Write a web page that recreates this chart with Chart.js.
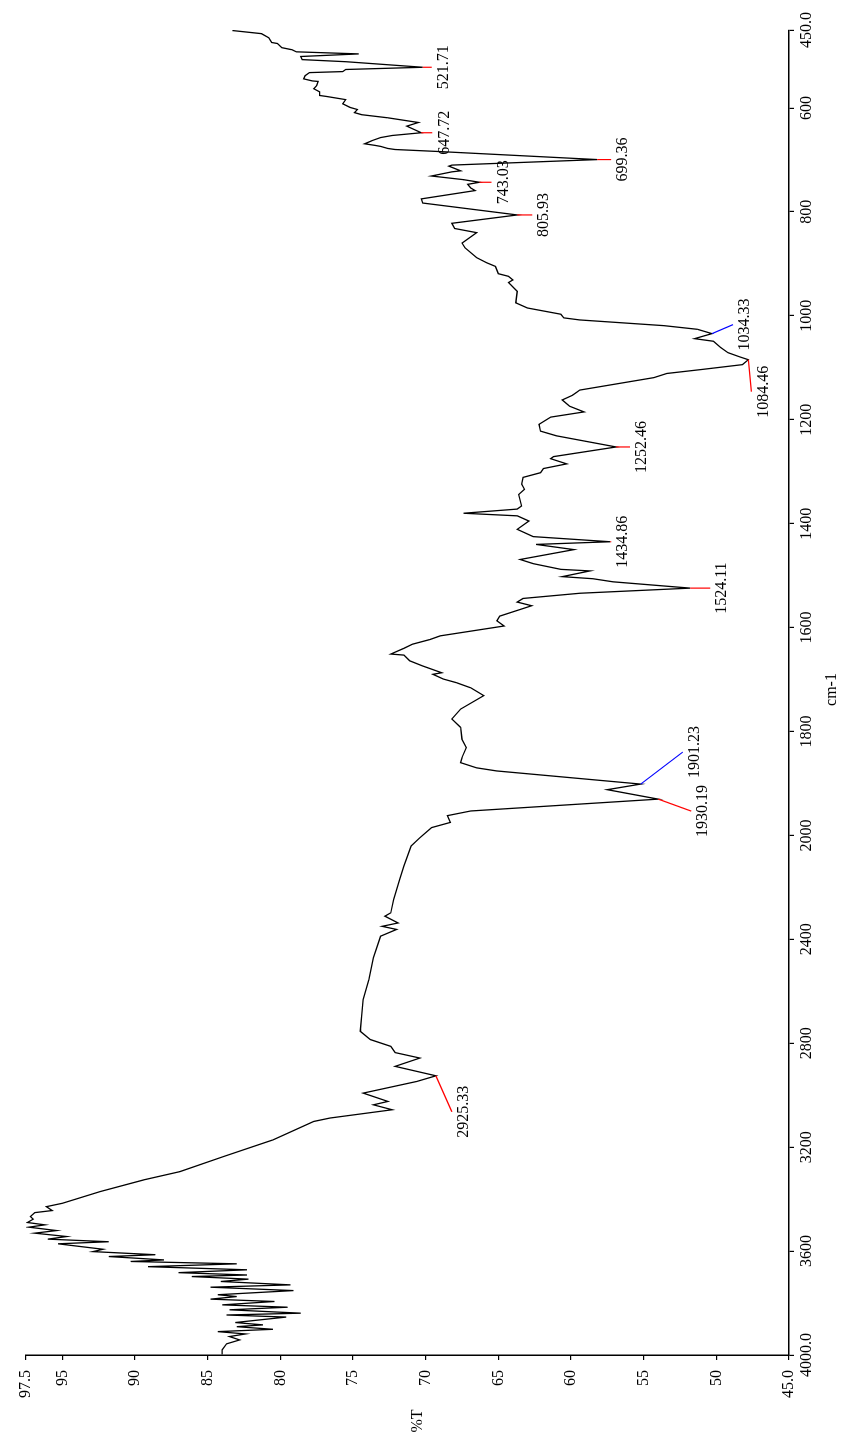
<!DOCTYPE html>
<html>
<head>
<meta charset="utf-8">
<title>IR spectrum</title>
<script src="https://cdn.jsdelivr.net/npm/chart.js@4.4.1/dist/chart.umd.min.js"></script>
<style>
  html, body { margin: 0; padding: 0; background: #fff; overflow: hidden; }
  #page { position: relative; width: 843px; height: 1436px; }
  /* the spectrum is laid out in landscape and turned a quarter turn counter-clockwise */
  #frame {
    position: absolute; left: 0; top: 0; width: 1436px; height: 843px;
    transform-origin: 0 0; transform: translateY(1436px) rotate(-90deg);
  }
</style>
</head>
<body>
<div id="page"><div id="frame"><canvas id="ir" width="1436" height="843"></canvas></div></div>
<script>
// Wavenumber (cm-1) and transmittance (%T) of the recorded spectrum
const waves = [
  451, 457, 465, 474, 476, 484, 488, 492, 496, 501, 507, 511, 521.71, 526, 530, 532, 538, 544, 548, 549,
  557, 563, 569, 576, 578, 584, 592, 599, 603, 609, 613, 619, 628, 635, 647.72, 653, 657, 663, 669, 672,
  674, 678, 680, 684, 699.36, 710, 712, 721, 723, 731, 738, 743.03, 747, 754, 759, 775, 783, 805.93, 822, 832,
  840, 860, 869, 888, 898, 905, 919, 924, 931, 936, 953, 975, 985, 997, 1004, 1008, 1019, 1026, 1034.33, 1044,
  1049, 1061, 1071, 1079, 1084.46, 1094, 1103, 1111, 1119, 1143, 1147, 1153, 1162, 1174, 1185, 1195, 1209, 1222, 1231, 1252.46,
  1271, 1275, 1285, 1294, 1302, 1311, 1324, 1334, 1344, 1366, 1372, 1380, 1385, 1395, 1411, 1425, 1434.86, 1440, 1450, 1469,
  1477, 1488, 1491, 1502, 1506, 1512, 1524.11, 1534, 1544, 1551, 1558, 1578, 1587, 1597, 1616, 1623, 1632, 1640, 1651, 1653,
  1664, 1674, 1687, 1690, 1699, 1706, 1716, 1731, 1757, 1776, 1792, 1815, 1831, 1850, 1860, 1870, 1876, 1901.23, 1912, 1930.19,
  1953, 1962, 1975, 1985, 2009, 2041, 2118, 2170, 2247, 2298, 2311, 2337, 2350, 2362, 2388, 2471, 2555, 2632, 2696, 2754,
  2786, 2812, 2836, 2857, 2889, 2925.33, 2947, 2992, 3024, 3037, 3056, 3088, 3101, 3172, 3236, 3294, 3326, 3371, 3416, 3429,
  3444, 3452, 3467, 3477, 3490, 3499, 3508, 3521, 3531, 3544, 3554, 3564, 3572, 3593, 3602, 3614, 3621, 3634, 3640, 3649,
  3660, 3672, 3683, 3692, 3698, 3708, 3717, 3730, 3739, 3752, 3768, 3775, 3785, 3794, 3807, 3816, 3826, 3839, 3846, 3854,
  3875, 3884, 3891, 3901, 3910, 3919, 3929, 3942, 3957, 3980, 3998
];
const trans = [
  83.3, 81.3, 80.8, 80.6, 80.2, 79.9, 79.2, 78.9, 74.6, 78.6, 78.5, 75.5, 70.2, 75.5, 75.7, 78.0, 78.3, 78.4, 77.8, 77.4,
  77.5, 77.7, 77.3, 77.3, 76.8, 75.5, 75.7, 75.2, 74.7, 74.9, 74.4, 72.6, 70.5, 71.3, 70.3, 72.3, 73.1, 73.7, 74.2, 73.5,
  73.1, 72.6, 72.1, 69.0, 58.2, 68.2, 68.4, 67.6, 68.2, 69.6, 67.4, 66.3, 67.1, 66.9, 66.6, 70.3, 70.2, 63.7, 68.2, 68.0,
  66.5, 67.5, 67.3, 66.5, 65.8, 65.2, 65.0, 64.3, 64.0, 64.3, 63.7, 63.8, 63.0, 60.7, 60.5, 59.4, 53.6, 51.3, 50.3, 51.5,
  50.2, 49.7, 49.2, 48.4, 47.8, 48.2, 50.9, 53.4, 54.3, 59.4, 59.6, 59.9, 60.6, 60.1, 59.1, 61.4, 62.2, 62.1, 61.0, 56.9,
  61.2, 61.4, 60.3, 61.9, 62.1, 63.3, 63.4, 63.2, 63.6, 63.4, 63.7, 67.4, 63.7, 62.9, 63.7, 62.6, 57.3, 62.4, 59.8, 63.5,
  62.6, 60.7, 58.7, 60.6, 58.5, 57.1, 51.8, 59.4, 63.3, 63.7, 62.7, 64.9, 65.1, 64.6, 69.0, 69.7, 70.9, 71.5, 72.4, 71.5,
  71.1, 70.2, 68.9, 69.5, 68.8, 67.9, 66.9, 66.0, 67.6, 68.2, 67.6, 67.5, 67.2, 67.5, 67.6, 66.5, 65.1, 55.2, 57.5, 54.0,
  66.9, 68.5, 68.3, 69.6, 70.4, 71.0, 71.5, 71.8, 72.2, 72.4, 72.8, 71.9, 73.0, 72.0, 73.1, 73.6, 73.9, 74.3, 74.4, 74.5,
  73.8, 72.4, 72.1, 70.4, 72.1, 69.3, 70.6, 74.3, 72.6, 73.6, 72.3, 76.6, 77.7, 80.5, 83.9, 86.9, 89.4, 92.4, 95.0, 96.1,
  95.7, 96.9, 97.2, 97.0, 97.4, 96.2, 97.3, 95.4, 96.9, 94.7, 96.0, 91.8, 95.3, 92.2, 92.9, 88.6, 91.8, 88.0, 90.3, 83.0,
  89.1, 82.3, 87.0, 82.3, 86.1, 82.2, 84.1, 79.3, 84.8, 79.1, 84.3, 83.0, 84.8, 80.4, 84.0, 79.5, 83.5, 78.6, 83.7, 79.6,
  83.1, 81.2, 83.0, 80.5, 84.3, 82.4, 83.5, 82.8, 83.7, 84.0, 84.0
];

// Axis ticks
const waveTicks = [4000, 3600, 3200, 2800, 2400, 2000, 1800, 1600, 1400, 1200, 1000, 800, 600, 450];
const transTicks = [45, 50, 55, 60, 65, 70, 75, 80, 85, 90, 95, 97.5];

// Labelled peaks (wavenumbers) and the colour of each leader line
const peakWaves = [521.71, 647.72, 699.36, 743.03, 805.93, 1034.33, 1084.46, 1252.46, 1434.86, 1524.11, 1901.23, 1930.19, 2925.33];
const peakColors = ['#ff0000', '#ff0000', '#ff0000', '#ff0000', '#ff0000', '#0000ff', '#ff0000', '#ff0000', '#ff0000', '#ff0000', '#0000ff', '#ff0000', '#ff0000'];
// Leader line offsets from each peak, in canvas pixels
const leaderOffsets = [[0, 9], [0, 11], [0, 14], [0, 12], [0, 15], [9, 21], [-32, 3], [0, 14], [0, 1], [0, 20], [32, 42], [-12, 33], [-36, 16]];

const FONT = '"Liberation Serif", "Times New Roman", serif';
const WAVE_MIN = 450, WAVE_MAX = 4000, WAVE_SPLIT = 2000;

// Wavenumber axis: below 2000 cm-1 the scale is expanded twofold
class SplitWaveScale extends Chart.LinearScale {
  static id = 'splitWave';
  static defaults = {};
  buildTicks() { return waveTicks.map(v => ({ value: v })); }
  _span() { return (WAVE_MAX - WAVE_SPLIT) + 2 * (WAVE_SPLIT - WAVE_MIN); }
  _toDecimal(v) {
    return v >= WAVE_SPLIT
      ? (WAVE_MAX - v) / this._span()
      : ((WAVE_MAX - WAVE_SPLIT) + 2 * (WAVE_SPLIT - v)) / this._span();
  }
  getPixelForValue(v) { return v == null ? NaN : this.getPixelForDecimal(this._toDecimal(v)); }
  getValueForPixel(p) {
    const d = this.getDecimalForPixel(p) * this._span();
    const hi = WAVE_MAX - WAVE_SPLIT;
    return d <= hi ? WAVE_MAX - d : WAVE_SPLIT - (d - hi) / 2;
  }
}
Chart.register(SplitWaveScale);

const peakMarks = {
  id: 'peakMarks',
  afterDatasetsDraw(chart) {
    const { ctx } = chart;
    const xs = chart.scales.x, ys = chart.scales.y;
    ctx.save();
    ctx.font = '16px ' + FONT;
    ctx.textAlign = 'center';
    ctx.textBaseline = 'middle';
    peakWaves.forEach((w, i) => {
      const t = trans[waves.indexOf(w)];
      const px = xs.getPixelForValue(w), py = ys.getPixelForValue(t);
      const ex = px + leaderOffsets[i][0], ey = py + leaderOffsets[i][1];
      ctx.strokeStyle = peakColors[i];
      ctx.lineWidth = 1.2;
      ctx.beginPath();
      ctx.moveTo(px, py);
      ctx.lineTo(ex, ey === py ? ey + 1 : ey);
      ctx.stroke();
      ctx.fillStyle = '#000';
      ctx.fillText(w.toFixed(2), ex, ey + 12);
    });
    ctx.restore();
  }
};

const axisTitles = {
  id: 'axisTitles',
  afterDraw(chart) {
    const { ctx, chartArea } = chart;
    ctx.save();
    ctx.font = '16px ' + FONT;
    ctx.fillStyle = '#000';
    ctx.textAlign = 'center';
    ctx.textBaseline = 'middle';
    ctx.fillText('%T', 15, (chartArea.top + chartArea.bottom) / 2 + 10);
    ctx.fillText('cm-1', (chartArea.left + chartArea.right) / 2 + 3, 832);
    ctx.restore();
  }
};

const fmt = v => (v === 4000 || v === 450 || v === 45 || v === 97.5) ? v.toFixed(1) : String(v);

new Chart(document.getElementById('ir'), {
  type: 'line',
  data: {
    datasets: [{
      data: waves.map((w, i) => ({ x: w, y: trans[i] })),
      borderColor: '#000',
      borderWidth: 1.3,
      pointRadius: 0,
      tension: 0,
      fill: false
    }]
  },
  options: {
    responsive: false,
    animation: false,
    events: [],
    layout: { padding: { left: 0, right: 30, top: 26, bottom: 0 } },
    plugins: { legend: { display: false }, tooltip: { enabled: false } },
    scales: {
      x: {
        type: 'splitWave',
        position: 'bottom',
        min: WAVE_MIN,
        max: WAVE_MAX,
        afterFit(s) { s.height = 54; },
        grid: { drawOnChartArea: false, drawTicks: true, tickLength: 5, color: '#000', lineWidth: 1.2 },
        border: { display: true, color: '#000', width: 1.5 },
        ticks: { autoSkip: false, maxRotation: 0, color: '#000', padding: 3, font: { family: FONT, size: 16 }, callback: v => fmt(v) }
      },
      y: {
        type: 'linear',
        position: 'left',
        min: 45,
        max: 97.5,
        afterBuildTicks(s) { s.ticks = transTicks.map(v => ({ value: v })); },
        afterFit(s) { s.width = 81; },
        grid: { drawOnChartArea: false, drawTicks: true, tickLength: 5, color: '#000', lineWidth: 1.2 },
        border: { display: true, color: '#000', width: 1.5 },
        ticks: { autoSkip: false, color: '#000', padding: 10, font: { family: FONT, size: 16 }, callback: v => fmt(v) }
      }
    }
  },
  plugins: [peakMarks, axisTitles]
});
</script>
</body>
</html>
